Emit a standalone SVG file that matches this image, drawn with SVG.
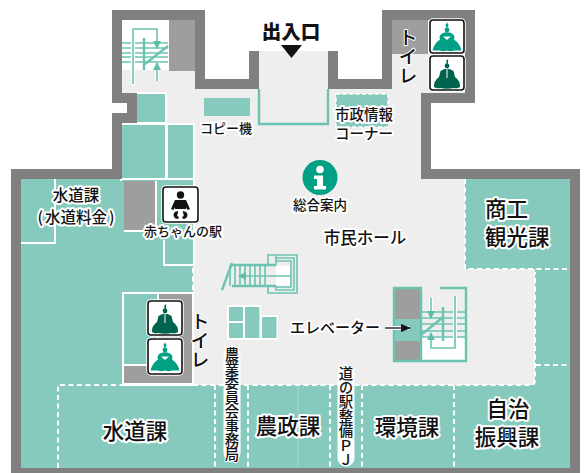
<svg xmlns="http://www.w3.org/2000/svg" width="584" height="473" viewBox="0 0 584 473">
<style>
.t{font-family:"Noto Sans CJK JP","Noto Sans",sans-serif;font-weight:500;fill:#111;stroke:#fff;stroke-width:4;paint-order:stroke;stroke-linejoin:round}
.m{text-anchor:middle}
.v{writing-mode:vertical-rl}
.vs{stroke-width:2}
.vbg{fill:none;stroke:#fff;stroke-width:17;stroke-linecap:round}
.teal{fill:#85cabc}
.room{fill:#9d9e9d}
.wh{fill:none;stroke:#fff;stroke-width:2}
.dash{fill:none;stroke:#fff;stroke-width:2;stroke-dasharray:5 3.5}
.st{fill:none;stroke:#6cc3b1;stroke-width:1.6}
.st2{fill:none;stroke:#6cc3b1;stroke-width:2.4}
.hl{fill:none;stroke:#fff;stroke-width:4}
.box{fill:#fff;stroke:#111;stroke-width:1.6}
.boxo{fill:none;stroke:#fff;stroke-width:3.5}
</style>
<defs>
<marker id="a" viewBox="0 0 8 10" refX="7" refY="5" markerWidth="8" markerHeight="10" markerUnits="userSpaceOnUse" orient="auto"><path d="M0 1L8 5L0 9Z" fill="#5fbcaa"/></marker>
<marker id="b" viewBox="0 0 10 8" refX="9" refY="4" markerWidth="10" markerHeight="8" markerUnits="userSpaceOnUse" orient="auto"><path d="M0 0L10 4L0 8Z" fill="#111"/></marker>
<g id="male">
<circle cx="17" cy="9" r="2.4"/><path d="M16.4 7V3.5L18.2 2L17.8 7Z"/>
<path d="M10.5 14Q17 9.5 23.5 14L25 20Q30.5 24 30 30Q27 32 24 31Q17 32.5 10 31Q7 32 4 30Q3.500 24 9 20Z"/>
</g>
<g id="female">
<circle cx="17" cy="10.500" r="2.400"/><path d="M16.200 8L15.500 5.500L17 3L18.500 5.500L17.800 8Z"/>
<path d="M12 14Q17 11.500 22 14Q25.500 16 24 20Q30 24 31.500 31Q27 31 24 31Q21 32.500 17 31Q13 32.500 10 31Q7 31 2.500 31Q4 24 10 20Q8.500 16 12 14Z"/>
</g>
</defs>

<g id="floor">
<path fill="#eee" d="M254 51V84H200V15H117V98H132V118H117V174H16V473H575V174H426V98H470V15H387V84H333V51Z"/>
</g>

<g id="offices">
<path class="teal" d="M21 179H193V385H535V269H465V179H570V468H21Z"/>
<rect x="135" y="92" width="32" height="33" fill="#fff"/>
<rect x="120" y="123" width="75" height="58" fill="#fff"/>
<rect class="teal" x="137" y="94" width="28" height="28"/>
<rect class="teal" x="122" y="125" width="43" height="53"/>
<rect class="teal" x="168" y="125" width="25" height="53"/>
<rect x="193" y="181" width="2" height="84" fill="#fff"/>
<rect class="teal" x="122" y="180" width="71" height="2"/>
<path class="wh" d="M55 179V243H21"/>
<rect class="room" x="124" y="181" width="31" height="49"/>
<path class="wh" d="M124 231H156V181"/>
<path class="wh" d="M164 240V265H193"/>
<path class="dash" d="M193 268V292"/>
<rect x="122" y="292" width="72" height="94" fill="#fff"/>
<rect class="teal" x="124" y="294" width="33" height="70"/>
<rect class="room" x="159" y="294" width="33" height="72"/>
<rect class="room" x="124" y="366" width="68" height="17"/>
<path class="dash" d="M58 468V385H122M193 385H530Q535 385 535 380V272M465 179V269H570M536 365H570M215 385V468M248 385V468M330 385V468M362 385V468M454 385V468"/>
<path d="M298 385V468" stroke="#a6d9cd" stroke-width="1" fill="none"/>
</g>

<g id="copy-machine">
<rect class="teal" x="204" y="98" width="46" height="18"/>
<text class="t m" x="226" y="133" font-size="13">コピー機</text>
</g>

<g id="info-corner">
<rect class="teal" x="336" y="94" width="52" height="33" stroke="#fff" stroke-width="1.500" stroke-dasharray="4 2.500"/>
<text class="t m" x="364" y="120" font-size="14.500">市政情報</text>
<text class="t m" x="364" y="139" font-size="14.500">コーナー</text>
</g>

<g id="walls-rooms">
<rect x="122" y="20" width="47" height="50" fill="#fff"/>
<rect class="room" x="169" y="20" width="26" height="51"/>
<rect x="122" y="70" width="47" height="3" fill="#eee"/>
<rect class="room" x="392" y="20" width="36" height="34"/>
<path fill="none" stroke="#808080" stroke-width="10" stroke-miterlimit="10" d="M254 51V84H200V15H117V98H132V118H117V174H16V473H575V174H426V98H470V15H387V84H333V51"/>
</g>

<g id="entrance">
<path class="st2" d="M259 89V124H328V89"/>
<text class="t m" x="291" y="39" font-size="19.500" style="font-weight:900">出入口</text>
<path d="M281 45H302L291.500 58Z" fill="#111"/>
</g>

<g id="stairs-nw">
<path class="st" d="M122 43H168M122 48H168M122 53H168M122 57H168M122 62H168"/>
<path class="st2" d="M145 64L168 46M144 38V70"/>
<path class="hl" d="M133 85V30M157 66V81"/>
<path class="st" d="M133 84V29H157V48" marker-end="url(#a)"/>
<path class="st" d="M157 81V63" marker-end="url(#a)"/>
</g>

<g id="toilet-ne">
<rect class="boxo" x="430" y="20" width="34" height="33" rx="3"/><rect class="box" x="430" y="20" width="34" height="33" rx="3"/>
<use href="#female" x="430" y="19.500" fill="#00a085"/>
<path d="M443 36.500H451L447 40Z" fill="#fff"/>
<rect class="boxo" x="430" y="56" width="34" height="34" rx="3"/><rect class="box" x="430" y="56" width="34" height="34" rx="3"/>
<use href="#male" x="430" y="57" fill="#00634f"/>
<path d="M447 69V78" stroke="#fff" stroke-width="1"/>
<text class="t v vs" x="408" y="28" font-size="19">トイレ</text>
</g>

<g id="info">
<circle cx="320" cy="177.500" r="17.500" fill="#00a085"/>
<circle cx="320" cy="169.500" r="3.800" fill="#fff"/>
<path d="M314 175.500H323V186H326V189.500H314V186H317V179H314Z" fill="#fff"/>
<text class="t m" x="320" y="210" font-size="13.500">総合案内</text>
</g>

<text class="t m" x="365" y="244" font-size="16.500">市民ホール</text>

<g id="baby">
<rect class="boxo" x="163" y="187" width="35" height="35" rx="3"/><rect class="box" x="163" y="187" width="35" height="35" rx="3"/>
<circle cx="180.500" cy="195" r="3.700" fill="#111"/>
<path d="M171 209L175 200H186L190 209L187.500 210L185 205H176L173.500 210Z" fill="#111"/>
<path d="M175 205H186V209H175Z" fill="#111"/>
<path d="M178 211Q172 212 174 217Q175 219 178 219L179 217Q176 216 178 213ZM183 211Q189 212 187 217Q186 219 183 219L182 217Q185 216 183 213Z" fill="#111"/>
<text class="t m" x="183" y="236" font-size="13">赤ちゃんの駅</text>
</g>

<g id="water-fee">
<text class="t m" x="76" y="201" font-size="15.500">水道課</text>
<text class="t m" x="76" y="223" font-size="15.500">(<tspan dx="2">水道料金</tspan><tspan dx="2">)</tspan></text>
</g>

<text class="t" x="485" y="217" font-size="21.500">商工</text>
<text class="t" x="485" y="245" font-size="21.500">観光課</text>

<g id="stairs-center">
<path class="st" d="M230 265V286M235 265V286M240 265V286M245 265V286M250 265V286M255 265V286M260 265V286M265 265V286"/>
<path class="st2" d="M222 290L232 263M232 265H276M232 286H276"/>
<path class="st" fill="#fff" d="M276 265V261H291V287H276V286"/>
<path class="st" d="M276 261V258H294V290H276V287M276 258V255H297V293H268V286M268 265V255H276"/>
<rect x="276" y="266" width="14" height="19.500" fill="#fff"/>
<path class="st" d="M291 276H239" marker-end="url(#a)"/>
</g>

<g id="blocks">
<path fill="#fff" d="M227 305H261V315H278V340H227Z"/>
<rect class="teal" x="229" y="307" width="14" height="14"/>
<rect class="teal" x="229" y="323" width="14" height="15"/>
<rect class="teal" x="245" y="307" width="14.500" height="31"/>
<rect class="teal" x="262" y="317" width="14.500" height="21"/>
</g>

<g id="toilet-w">
<rect class="boxo" x="148" y="301" width="34" height="34" rx="3"/><rect class="box" x="148" y="301" width="34" height="34" rx="3"/>
<use href="#male" x="148" y="302" fill="#00634f"/>
<path d="M165 314V323" stroke="#fff" stroke-width="1"/>
<rect class="boxo" x="148" y="339" width="34" height="35" rx="3"/><rect class="box" x="148" y="339" width="34" height="35" rx="3"/>
<use href="#female" x="148" y="339.500" fill="#00a085"/>
<path d="M161 356.500H169L165 360Z" fill="#fff"/>
<text class="t v vs" x="200" y="312" font-size="19">トイレ</text>
</g>

<g id="elevator">
<rect class="room" x="394" y="288" width="27" height="31"/>
<rect class="teal" x="394" y="319" width="27" height="22"/>
<rect class="room" x="394" y="341" width="27" height="19"/>
<rect x="421" y="337" width="45" height="23" fill="#fff"/>
<path class="st2" d="M440 288H466V361H394V288H421V361"/>
<path class="st" d="M421 312H466M421 318H466M421 324H466M421 331H466M421 337H466"/>
<path class="st2" d="M421 335L442 318M443 307V341"/>
<path class="hl" d="M455 296V345M431 298V312"/>
<path class="st" d="M455 296V348H431V333" marker-end="url(#a)"/>
<path class="st" d="M431 298V318" marker-end="url(#a)"/>
</g>

<g id="elevator-label">
<text class="t" x="290" y="333" font-size="15">エレベーター</text>
<path d="M385 328H409" stroke="#fff" stroke-width="4"/>
<path d="M385 328H410" stroke="#111" stroke-width="1.300" marker-end="url(#b)"/>
</g>

<path class="vbg" d="M232 355V453M346 374V458"/>
<text class="t v vs" x="232" y="347" font-size="14.400">農業委員会事務局</text>
<text class="t v vs" x="346" y="366" font-size="14.400">道の駅整備ＰＪ</text>
<text class="t m" x="135" y="439" font-size="21.500">水道課</text>
<text class="t m" x="288" y="434" font-size="21.500">農政課</text>
<text class="t m" x="407" y="435" font-size="21.500">環境課</text>
<text class="t m" x="508" y="417" font-size="21.500">自治</text>
<text class="t m" x="507" y="445" font-size="21.500">振興課</text>
</svg>
